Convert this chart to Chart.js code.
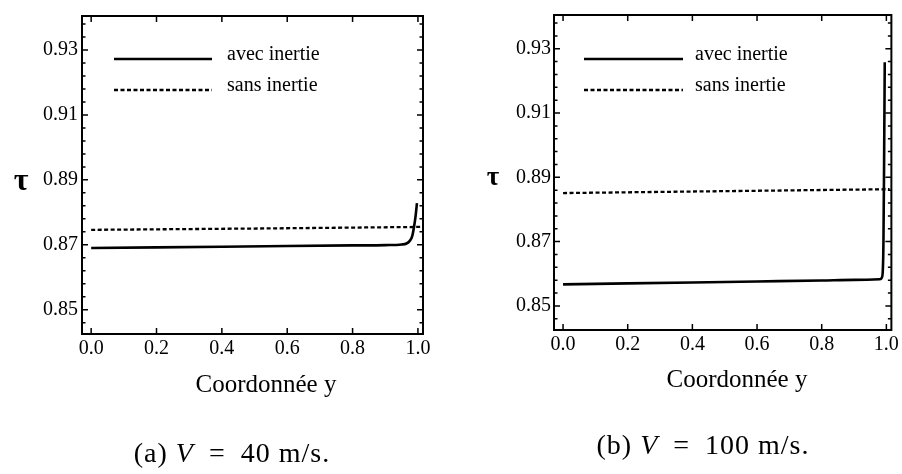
<!DOCTYPE html>
<html><head><meta charset="utf-8">
<script src="https://cdn.jsdelivr.net/npm/chart.js@4"></script>
<style>
body{margin:0;background:#fff;width:902px;height:474px;position:relative;overflow:hidden}
canvas{position:absolute;top:0}
.t{position:absolute;font-family:'Liberation Serif',serif;color:#000;white-space:nowrap;transform:translate(-50%,-50%);line-height:1}
.cap{font-size:28px;letter-spacing:1px}
</style></head><body>
<canvas id="c1" width="451" height="474" style="left:0"></canvas>
<canvas id="c2" width="451" height="474" style="left:451px"></canvas>
<div class="t" style="left:21px;top:179px;font-size:32px;font-weight:bold">τ</div>
<div class="t" style="left:493px;top:176px;font-size:27px;font-weight:bold">τ</div>
<div class="t" style="left:266px;top:383px;font-size:25px">Coordonnée y</div>
<div class="t" style="left:737px;top:378px;font-size:25px">Coordonnée y</div>
<div class="t cap" style="left:232px;top:453px">(a) <i>V</i>&#8194;=&#8194;40 m/s.</div>
<div class="t cap" style="left:703px;top:445px">(b) <i>V</i>&#8194;=&#8194;100 m/s.</div>
<script>
// ---- data ----
const seriesNames = ['avec inertie', 'sans inertie'];
const xTicks = [0.0, 0.2, 0.4, 0.6, 0.8, 1.0];
const yTicks = [0.85, 0.87, 0.89, 0.91, 0.93];
const yMinorTicks = [0.846, 0.854, 0.858, 0.862, 0.866, 0.874, 0.878, 0.882, 0.886,
  0.894, 0.898, 0.902, 0.906, 0.914, 0.918, 0.922, 0.926, 0.934, 0.938];

// panel (a) V = 40 m/s
const aAvecX = [0, 0.2, 0.4, 0.6, 0.8, 0.9, 0.95, 0.965, 0.975, 0.982, 0.988, 0.993, 0.997];
const aAvecY = [0.8690, 0.8692, 0.8694, 0.8696, 0.8698, 0.8699, 0.8701, 0.8704, 0.8712, 0.8725, 0.8755, 0.8790, 0.8828];
const aSansX = [0, 0.5, 1.01];
const aSansY = [0.8746, 0.8750, 0.8755];

// panel (b) V = 100 m/s
const bAvecX = [0, 0.2, 0.4, 0.6, 0.8, 0.9, 0.98, 0.986, 0.989, 0.991, 0.993, 0.995];
const bAvecY = [0.8567, 0.8570, 0.8573, 0.8576, 0.8579, 0.8581, 0.8583, 0.8588, 0.8610, 0.8700, 0.8950, 0.9258];
const bSansX = [0, 0.5, 1.01];
const bSansY = [0.8851, 0.8857, 0.8863];

const xRange = [-0.028, 1.0155];
const yRange = [0.8425, 0.9405];

const pts = (xs, ys) => xs.map((x, i) => ({x, y: ys[i]}));

const framePlugin = {
  id: 'frame',
  afterDatasetsDraw(chart, args, opts) {
    const {ctx, chartArea: a, scales} = chart;
    ctx.save();
    ctx.strokeStyle = '#000';
    ctx.lineWidth = 2;
    ctx.strokeRect(a.left, a.top, a.right - a.left, a.bottom - a.top);
    ctx.lineWidth = 1.5;
    ctx.beginPath();
    const tick = (v, len, axis) => {
      if (axis === 'x') {
        const px = scales.x.getPixelForValue(v);
        ctx.moveTo(px, a.bottom); ctx.lineTo(px, a.bottom - len);
        ctx.moveTo(px, a.top); ctx.lineTo(px, a.top + len);
      } else {
        const py = scales.y.getPixelForValue(v);
        ctx.moveTo(a.left, py); ctx.lineTo(a.left + len, py);
        ctx.moveTo(a.right, py); ctx.lineTo(a.right - len, py);
      }
    };
    xTicks.forEach(v => tick(v, 6, 'x'));
    yTicks.forEach(v => tick(v, 6, 'y'));
    yMinorTicks.forEach(v => tick(v, 3.5, 'y'));
    ctx.stroke();
    // legend
    const L = opts.legend;
    ctx.font = '20px "Liberation Serif"';
    ctx.textBaseline = 'middle';
    ctx.fillStyle = '#000';
    chart.data.datasets.forEach((ds, i) => {
      const y = a.top + L.y0 + i * L.dy;
      ctx.beginPath();
      ctx.lineWidth = ds.borderWidth;
      ctx.setLineDash(ds.borderDash || []);
      ctx.moveTo(a.left + L.x0, y); ctx.lineTo(a.left + L.x1, y);
      ctx.stroke();
      ctx.setLineDash([]);
      ctx.fillText(ds.label, a.left + L.tx, y - 4);
    });
    ctx.restore();
  }
};

function makeChart(id, avec, sans, geo) {
  return new Chart(document.getElementById(id), {
    type: 'line',
    data: {
      datasets: [
        {label: seriesNames[0], data: avec, borderColor: '#000', borderWidth: 2.6, pointRadius: 0,
         cubicInterpolationMode: 'monotone', fill: false},
        {label: seriesNames[1], data: sans, borderColor: '#000', borderWidth: 2.3, borderDash: [4, 2.5],
         pointRadius: 0, fill: false}
      ]
    },
    options: {
      responsive: false, animation: false, devicePixelRatio: 1,
      layout: {padding: {top: geo.top, right: geo.right, left: 0, bottom: 0}},
      plugins: {legend: {display: false}, tooltip: {enabled: false},
        frame: {legend: geo.legend}},
      scales: {
        x: {
          type: 'linear', min: xRange[0], max: xRange[1],
          afterBuildTicks: s => { s.ticks = xTicks.map(v => ({value: v})); },
          afterFit: s => { s.height = geo.xH; },
          grid: {display: false, drawTicks: false},
          border: {display: false},
          ticks: {color: '#000', padding: 3, maxRotation: 0, autoSkip: false,
            font: {family: 'Liberation Serif', size: 20},
            callback: v => v.toFixed(1)}
        },
        y: {
          type: 'linear', min: yRange[0], max: yRange[1],
          afterBuildTicks: s => { s.ticks = yTicks.map(v => ({value: v})); },
          afterFit: s => { s.width = geo.yW; },
          grid: {display: false, drawTicks: false},
          border: {display: false},
          ticks: {color: '#000', padding: geo.yPad, autoSkip: false,
            font: {family: 'Liberation Serif', size: 20},
            callback: v => v.toFixed(2)}
        }
      }
    },
    plugins: [framePlugin]
  });
}

makeChart('c1', pts(aAvecX, aAvecY), pts(aSansX, aSansY),
  {top: 14, right: 28, xH: 140, yW: 82, yPad: 4, legend: {x0: 32, x1: 130, tx: 145, y0: 43, dy: 31}});
makeChart('c2', pts(bAvecX, bAvecY), pts(bSansX, bSansY),
  {top: 8, right: 9, xH: 144, yW: 103, yPad: 3, legend: {x0: 30, x1: 129, tx: 141, y0: 44, dy: 31}});
</script>
</body></html>
